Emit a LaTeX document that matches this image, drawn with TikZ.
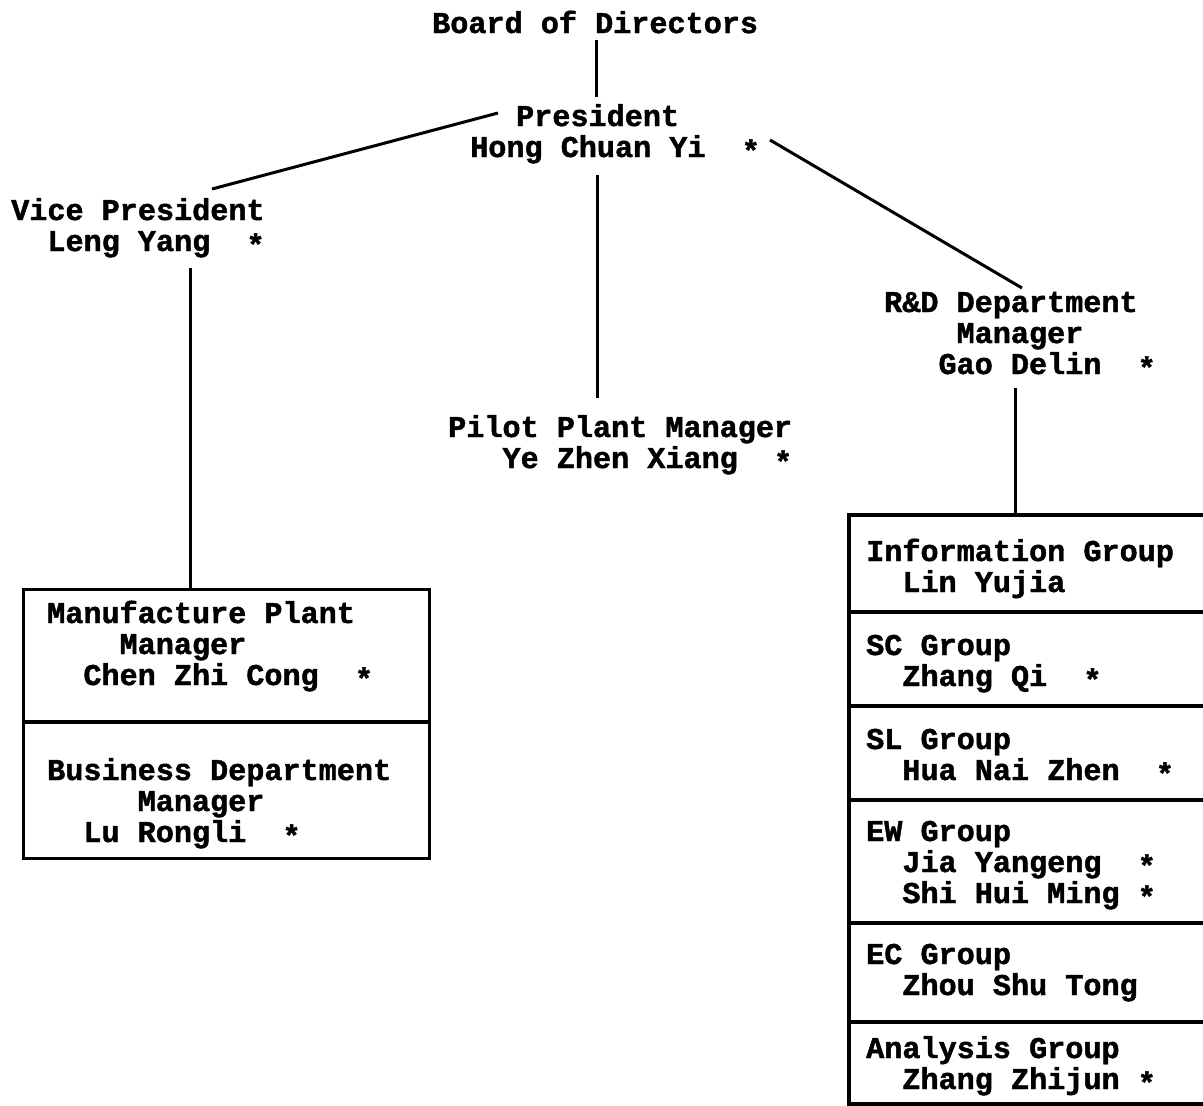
\documentclass[tikz,border=0pt]{standalone}
\usepackage{fontspec}
\setmonofont{Liberation Mono}[BoldFeatures={FakeBold=1.5}]
\newlength\cw
\setlength\cw{18.1pt}
\newcommand\ind[1]{\hspace*{#1\cw}}
\newcommand\stt{\raisebox{-0.14em}{*}}
\begin{document}
\begin{tikzpicture}[x=1pt,y=-1pt,
  txt/.style={anchor=base west, inner sep=0pt, align=left,
    font=\ttfamily\bfseries\fontsize{30.17}{31}\selectfont},
  conn/.style={line width=3pt},
  boxline/.style={line width=3.2pt}]
\useasboundingbox[fill=white] (0,0) rectangle (1203,1106);

% text blocks (anchor = baseline of the last line)
\node[txt] (board) at (432,33) {Board of Directors};
\node[txt] (pres) at (470,157) {\ind{2.54}President\\Hong Chuan Yi\ind{2}\stt};
\node[txt] (vice) at (11,251) {Vice President\\\ind{2}Leng Yang\ind{2}\stt};
\node[txt] (rd) at (884,374) {R\&D Department\\\ind{4}Manager\\\ind{3}Gao Delin\ind{2}\stt};
\node[txt] (pilot) at (448,468) {Pilot Plant Manager\\\ind{3}Ye Zhen Xiang\ind{2}\stt};

% left box
\node[draw, boxline, anchor=north west, inner sep=0pt, minimum width=406pt, minimum height=269pt] (lbox) at (22,588) {};
\draw[boxline] (22,722) -- (428,722);
\node[txt] (manu) at (47,685) {Manufacture Plant\\\ind{4}Manager\\\ind{2}Chen Zhi Cong\ind{2}\stt};
\node[txt] (bus) at (47,842) {Business Department\\\ind{5}Manager\\\ind{2}Lu Rongli\ind{2}\stt};

% right box
\draw[boxline] (1210,515) -- (849,515) -- (849,1104) -- (1210,1104);
\foreach \yy in {612,706,800,923,1022} \draw[boxline] (849,\yy) -- (1210,\yy);
\node[txt] (info) at (866,592) {Information Group\\\ind{2}Lin Yujia};
\node[txt] (sc) at (866,686) {SC Group\\\ind{2}Zhang Qi\ind{2}\stt};
\node[txt] (sl) at (866,780) {SL Group\\\ind{2}Hua Nai Zhen\ind{2}\stt};
\node[txt] (ew) at (866,903) {EW Group\\\ind{2}Jia Yangeng\ind{2}\stt\\\ind{2}Shi Hui Ming\ind{1}\stt};
\node[txt] (ec) at (866,995) {EC Group\\\ind{2}Zhou Shu Tong};
\node[txt] (an) at (866,1089) {Analysis Group\\\ind{2}Zhang Zhijun\ind{1}\stt};

% connector end points
\coordinate (bdS) at (596,40);
\coordinate (prN) at (596,97);
\coordinate (prW) at (498,113);
\coordinate (viN) at (212,189);
\coordinate (prE) at (770,140);
\coordinate (rdN) at (1022,288);
\coordinate (prS) at (597,175);
\coordinate (plN) at (597,398);
\coordinate (viS) at (190,268);
\coordinate (lbN) at (190,588);
\coordinate (rdS) at (1015,388);
\coordinate (rbN) at (1015,515);

\draw[conn] (bdS) -- (prN);
\draw[conn] (prW) -- (viN);
\draw[conn] (prE) -- (rdN);
\draw[conn] (prS) -- (plN);
\draw[conn] (viS) -- (lbN);
\draw[conn] (rdS) -- (rbN);
\end{tikzpicture}
\end{document}
